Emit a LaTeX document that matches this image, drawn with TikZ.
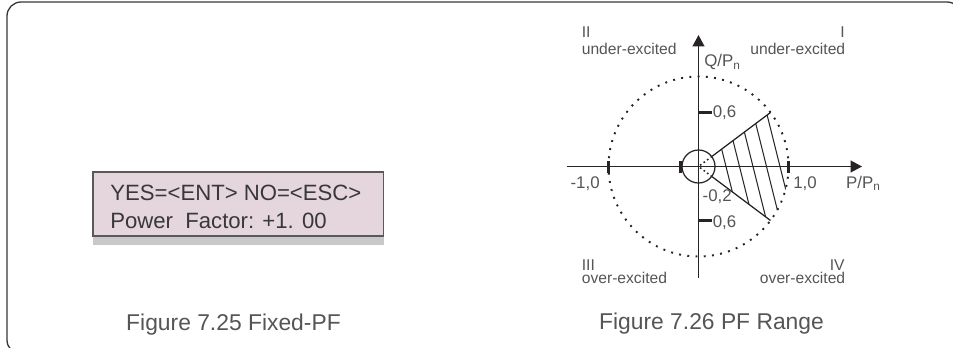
\documentclass[tikz,border=0pt]{standalone}
\usepackage{fontspec}
\setmainfont{Liberation Sans}
\usetikzlibrary{arrows.meta}
\definecolor{framegray}{RGB}{55,55,55}
\definecolor{inkgray}{RGB}{40,36,36}
\definecolor{textgray}{RGB}{85,85,85}
\definecolor{lcdfill}{RGB}{228,214,220}
\definecolor{lcdshade}{RGB}{200,200,200}
\tikzset{axisline/.style={-{Triangle[length=0.23cm,width=0.24cm]},line width=0.75pt,inkgray},
 tickmark/.style={line width=1.8pt,inkgray},vtick/.style={line width=2.2pt,inkgray},
 dotcircle/.style={line width=1.1pt,dash pattern=on 1.1pt off 3.6pt,inkgray},
 innerdots/.style={line width=0.9pt,dash pattern=on 0.9pt off 1.6pt,inkgray},
 wedgeline/.style={line width=0.7pt,inkgray},hatchline/.style={line width=0.6pt,inkgray},
 quadlbl/.style={font=\fontsize{8.9}{10}\selectfont},
 ticklbl/.style={font=\fontsize{9.6}{11}\selectfont},
 lcdtext/.style={font=\fontsize{12.6}{15}\selectfont,text=black!78},
 caption/.style={font=\fontsize{13}{15}\selectfont},
 every node/.style={inner sep=0pt,text=textgray}}

\begin{document}
\begin{tikzpicture}[x=0.02cm,y=-0.02cm]
\useasboundingbox (0,0) rectangle (953,348);
\clip (0,0) rectangle (953,348);
\draw[framegray,line width=0.75pt,rounded corners=0.28cm] (7,2) rectangle (961,354);

% left panel: display
\fill[lcdshade] (93,236) rectangle (383.5,245);
\draw[fill=lcdfill,draw=black!65,line width=0.6pt] (93,172) rectangle (383.5,236);
\node[lcdtext,anchor=base west] (lcdA) at (110,200) {YES=<ENT> NO=<ESC>};
\node[lcdtext,anchor=base west] (lcdB) at (110,228) {Power~~Factor: +1. 00};
\node[caption,anchor=base] (capA) at (233.5,330) {Figure 7.25 Fixed-PF};

% right panel: PF range
\coordinate (O) at (698.5,166.5);
\coordinate (xtail) at (566.5,166.5);
\coordinate (xtip) at (862,166.5);
\coordinate (ytail) at (698.5,277.5);
\coordinate (ytip) at (698.5,35);
\draw[axisline] (xtail) -- (xtip);
\draw[axisline] (ytail) -- (ytip);
\begin{scope}[shift={(O)},yscale=-1]
\draw[dotcircle] (0,0) circle[radius=90];
\draw[wedgeline] (0,0) circle[radius=16.5];
\draw[wedgeline] (36.87:17) -- (36.87:90);
\draw[wedgeline] (-36.87:17) -- (-36.87:90);
\draw[innerdots] (36.87:2) -- (36.87:16);
\draw[innerdots] (-36.87:2) -- (-36.87:16);
\begin{scope}
\clip (36.87:17) -- (36.87:90) arc[start angle=36.87,end angle=-36.87,radius=90]
 -- (-36.87:17) arc[start angle=-36.87,end angle=36.87,radius=17] -- cycle;
\foreach \k in {0,...,4}
 \draw[hatchline] ({27.5+13.5*\k},0) ++(-20,80) -- ++(40,-160);
\end{scope}
\foreach \px in {-90,-18,90}
 \draw[tickmark] (\px,-6) -- (\px,6);
\foreach \qy in {54,-54}
 \draw[vtick] (0,\qy) -- (13,\qy);
\end{scope}

\node[quadlbl,anchor=base west] (qII) at (581.5,37.3) {II};
\node[quadlbl,anchor=base west] (ueL) at (581.5,55) {under-excited};
\node[quadlbl,anchor=base east] (qI) at (845,37.3) {I};
\node[quadlbl,anchor=base east] (ueR) at (845.5,55) {under-excited};
\node[quadlbl,anchor=base west] (qIII) at (581.5,270) {III};
\node[quadlbl,anchor=base west] (oeL) at (581.5,283.3) {over-excited};
\node[quadlbl,anchor=base east] (qIV) at (845,270) {IV};
\node[quadlbl,anchor=base east] (oeR) at (845.5,283.3) {over-excited};

\node[ticklbl,anchor=base west] (qaxis) at (704,66.7) {Q/P\textsubscript{n}};
\node[ticklbl,anchor=base west] (paxis) at (845.7,188.3) {P/P\textsubscript{n}};
\node[ticklbl,anchor=base west] (qpos) at (712.5,117.3) {0,6};
\node[ticklbl,anchor=base west] (qneg) at (712.5,227.3) {0,6};
\node[ticklbl,anchor=base east] (pneg) at (600,188.3) {-1,0};
\node[ticklbl,anchor=base west] (ppos) at (793,188.3) {1,0};
\node[ticklbl,anchor=base west] (pmin) at (702.3,201.7) {-0,2};
\node[caption,anchor=base] (capB) at (711.5,329.3) {Figure 7.26 PF Range};
\end{tikzpicture}
\end{document}
